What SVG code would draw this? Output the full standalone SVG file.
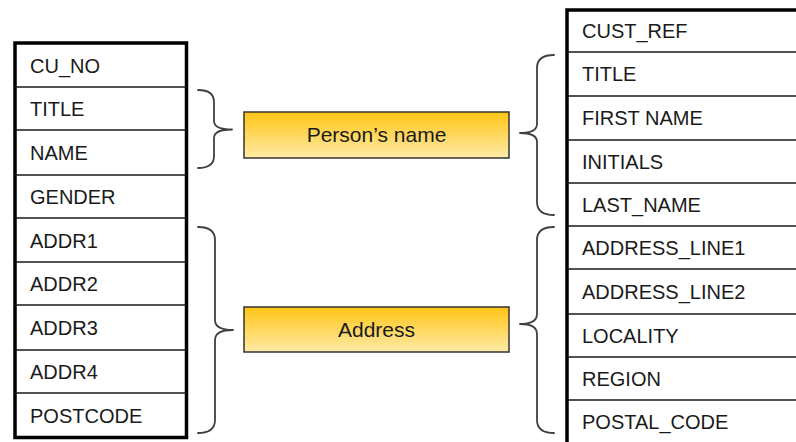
<svg xmlns="http://www.w3.org/2000/svg" width="796" height="442" viewBox="0 0 796 442">
  <defs>
    <linearGradient id="gold" x1="0" y1="0" x2="0" y2="1">
      <stop offset="0" stop-color="#FFC414"/>
      <stop offset="1" stop-color="#FFEBA8"/>
    </linearGradient>
  </defs>
  <style>
    .outer { fill: #ffffff; stroke: #000000; stroke-width: 3.5; }
    .row { stroke: #1a1a1a; stroke-width: 1.5; fill: none; }
    .field { font-family: "Liberation Sans", Arial, sans-serif; font-size: 20px; fill: #1a1a1a; }
    .label { font-family: "Liberation Sans", Arial, sans-serif; font-size: 21px; fill: #1a1a1a; text-anchor: middle; }
    .box { fill: url(#gold); stroke: #333333; stroke-width: 1.5; }
    .brace { fill: none; stroke: #404040; stroke-width: 1.8; stroke-linejoin: round; stroke-linecap: round; }
  </style>
  <rect width="796" height="442" fill="#ffffff"/>

  <g id="left-table">
    <rect class="outer" x="15" y="43" width="171.5" height="394.5"/>
    <path class="row" d="M15,87H186.5 M15,130H186.5 M15,175H186.5 M15,218H186.5 M15,262H186.5 M15,305H186.5 M15,350H186.5 M15,393H186.5"/>
    <text class="field" x="30" y="72.5">CU_NO</text>
    <text class="field" x="30" y="116">TITLE</text>
    <text class="field" x="30" y="160">NAME</text>
    <text class="field" x="30" y="204">GENDER</text>
    <text class="field" x="30" y="247.5">ADDR1</text>
    <text class="field" x="30" y="291">ADDR2</text>
    <text class="field" x="30" y="335">ADDR3</text>
    <text class="field" x="30" y="379">ADDR4</text>
    <text class="field" x="30" y="422.5">POSTCODE</text>
  </g>

  <g id="right-table">
    <rect class="outer" x="567" y="10" width="240" height="440"/>
    <path class="row" d="M567,52H796 M567,96H796 M567,140H796 M567,183H796 M567,226H796 M567,269H796 M567,314H796 M567,357H796 M567,400H796"/>
    <text class="field" x="582" y="38">CUST_REF</text>
    <text class="field" x="582" y="81">TITLE</text>
    <text class="field" x="582" y="125">FIRST NAME</text>
    <text class="field" x="582" y="168.5">INITIALS</text>
    <text class="field" x="582" y="211.5">LAST_NAME</text>
    <text class="field" x="582" y="254.5">ADDRESS_LINE1</text>
    <text class="field" x="582" y="298.5">ADDRESS_LINE2</text>
    <text class="field" x="582" y="342.5">LOCALITY</text>
    <text class="field" x="582" y="385.5">REGION</text>
    <text class="field" x="582" y="428.5">POSTAL_CODE</text>
  </g>

  <g id="persons-name">
    <rect class="box" x="244" y="112" width="265" height="46"/>
    <text class="label" x="376.5" y="142">Person’s name</text>
  </g>

  <g id="address">
    <rect class="box" x="244" y="307" width="265" height="45"/>
    <text class="label" x="376.5" y="337">Address</text>
  </g>

  <g id="connectors">
    <path class="brace" d="M198,90 Q214,90 214,102 L214,121 Q214,129.5 232,129.5 Q214,129.5 214,138 L214,156 Q214,168 198,168"/>
    <path class="brace" d="M198,227 Q215,227 215,240 L215,320 Q215,330 233,330 Q215,330 215,340 L215,420 Q215,433 198,433"/>
    <path class="brace" d="M554,55 Q537,55 537,68 L537,124 Q537,133 520,133 Q537,133 537,142 L537,202 Q537,215 554,215"/>
    <path class="brace" d="M554,227 Q537,227 537,240 L537,314 Q537,324 520,324 Q537,324 537,334 L537,420 Q537,433 554,433"/>
  </g>
</svg>
